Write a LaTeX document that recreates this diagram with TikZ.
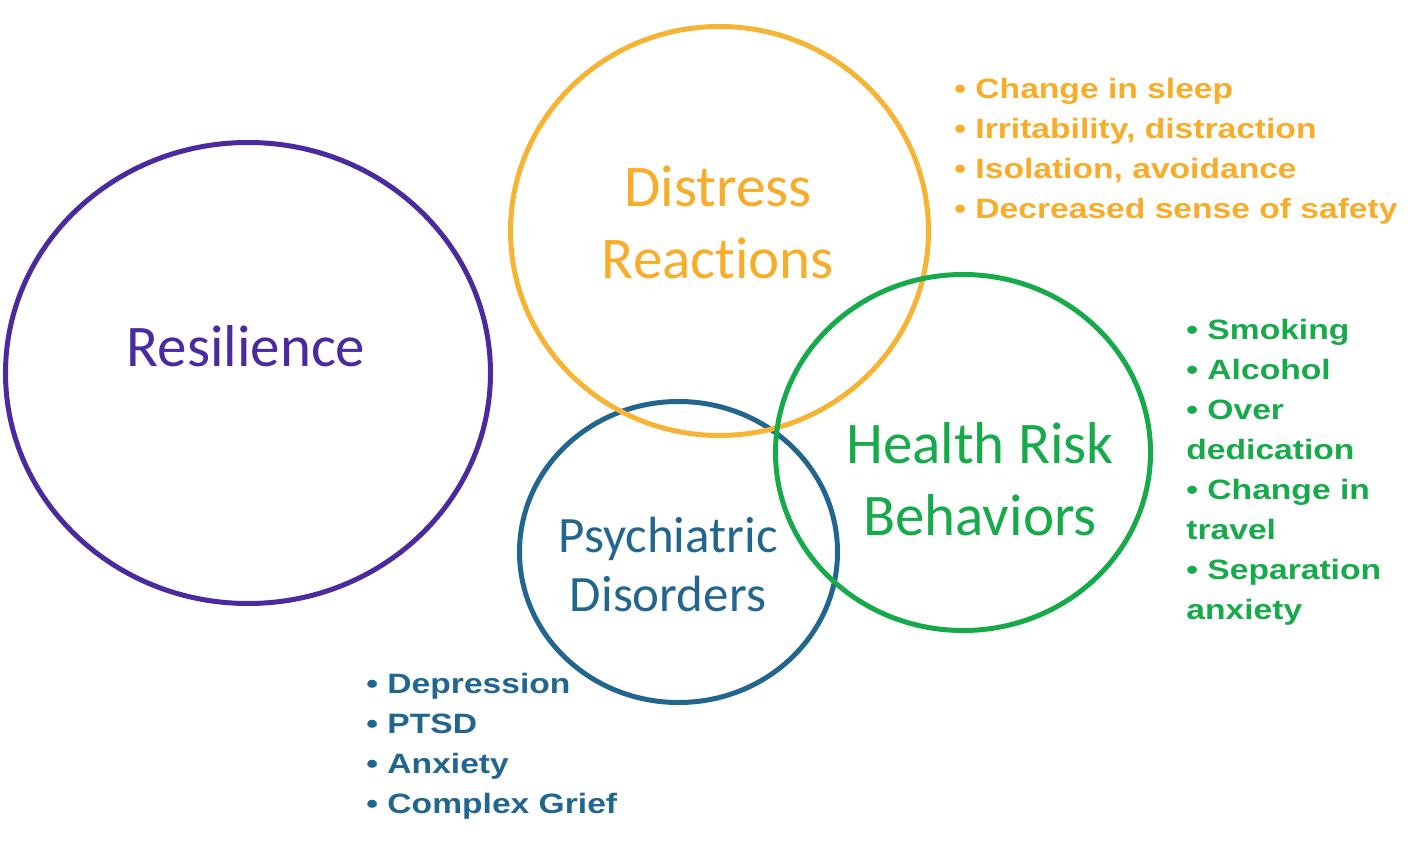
\documentclass[tikz,border=0pt]{standalone}
\usepackage{fontspec}
\setmainfont{Carlito}[Ligatures=NoCommon]
\newfontfamily\listfont{Liberation Sans}[FakeStretch=1.2]
\usetikzlibrary{shapes.geometric}

\definecolor{resil}{HTML}{4A2A9E}
\definecolor{distress}{HTML}{F7B334}
\definecolor{distxt}{HTML}{F7AC2A}
\definecolor{health}{HTML}{17AA4A}
\definecolor{psych}{HTML}{22668F}

\tikzset{
  ring/.style={ellipse, line width=2.5pt, inner sep=0pt},
  title/.style={font=\fontsize{29.5}{36}\selectfont, align=center, inner sep=0pt},
  bullets/.style={font=\listfont\bfseries\fontsize{14}{20}\selectfont, align=left, inner sep=0pt, anchor=north west}
}

\begin{document}
\begin{tikzpicture}[x=0.5pt,y=-0.5pt]
    \useasboundingbox (0,0) rectangle (1417,844);
    % circles
    \node[ring, draw=resil, minimum width=242.5pt, minimum height=230.5pt] (res) at (248,373) {};
    \node[ring, draw=psych, minimum width=159pt, minimum height=150.5pt] (psy) at (678.5,552) {};
    \node[ring, draw=distress, minimum width=209pt, minimum height=204.5pt] (dis) at (719.5,231) {};
    \node[ring, draw=health, minimum width=187.5pt, minimum height=178pt] (hea) at (963,452.5) {};
    % titles
    \node[title, text=resil] (restxt) at (246,346) {Resilience};
    \node[title, text=distxt] (distxt) at (718,222) {Distress\\Reactions};
    \node[title, text=health] (heatxt) at (980,479) {Health Risk\\Behaviors};
    \node[title, text=psych, font=\fontsize{25.5}{29.5}\selectfont] (psytxt) at (668,564) {Psychiatric\\Disorders};
    % lists
    \node[bullets, text=distxt] (dislist) at (954,78) {\textbullet\ Change in sleep\\\textbullet\ Irritability, distraction\\\textbullet\ Isolation, avoidance\\\textbullet\ Decreased sense of safety};
    \node[bullets, text=health] (healist) at (1186,319) {\textbullet\ Smoking\\\textbullet\ Alcohol\\\textbullet\ Over\\dedication\\\textbullet\ Change in\\travel\\\textbullet\ Separation\\anxiety};
    \node[bullets, text=psych] (psylist) at (366,673) {\textbullet\ Depression\\\textbullet\ PTSD\\\textbullet\ Anxiety\\\textbullet\ Complex Grief};
\end{tikzpicture}
\end{document}
